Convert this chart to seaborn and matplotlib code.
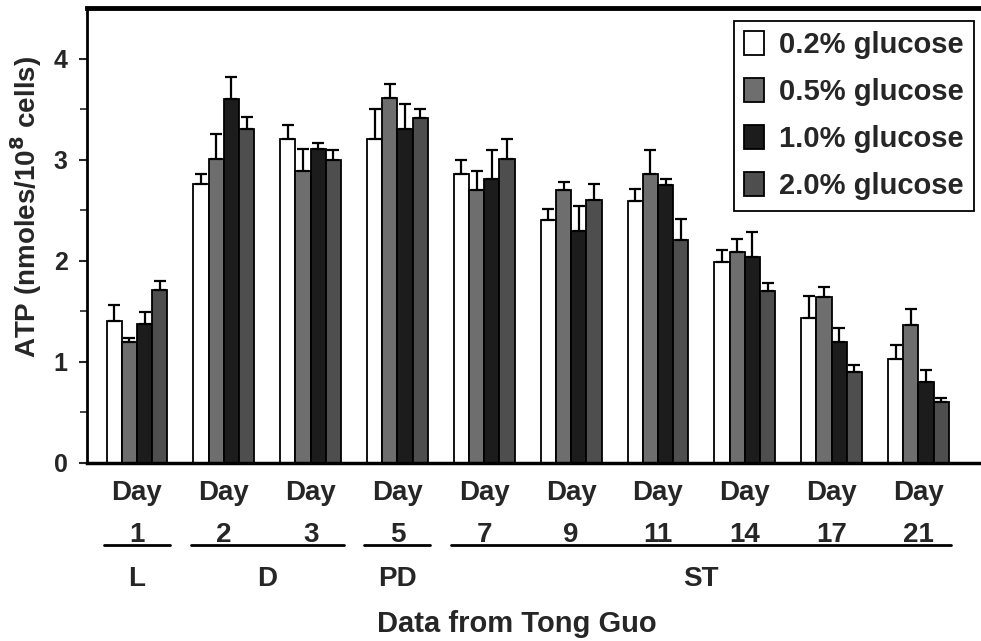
import numpy as np
import pandas as pd
import matplotlib
matplotlib.use('Agg')
import matplotlib.pyplot as plt
import matplotlib.transforms as mtransforms
import seaborn as sns

# data
days = ['1', '2', '3', '5', '7', '9', '11', '14', '17', '21']
glucose = ['0.2% glucose', '0.5% glucose', '1.0% glucose', '2.0% glucose']

atp_02 = [1.40, 2.76, 3.20, 3.20, 2.86, 2.40, 2.59, 1.99, 1.43, 1.03]
atp_05 = [1.20, 3.01, 2.89, 3.61, 2.70, 2.70, 2.86, 2.09, 1.64, 1.36]
atp_10 = [1.37, 3.60, 3.11, 3.30, 2.81, 2.29, 2.75, 2.04, 1.20, 0.80]
atp_20 = [1.71, 3.30, 3.00, 3.41, 3.01, 2.60, 2.21, 1.70, 0.90, 0.60]

err_02 = [0.16, 0.10, 0.14, 0.30, 0.14, 0.11, 0.12, 0.12, 0.22, 0.14]
err_05 = [0.04, 0.24, 0.22, 0.14, 0.19, 0.08, 0.24, 0.13, 0.10, 0.16]
err_10 = [0.12, 0.22, 0.05, 0.25, 0.29, 0.25, 0.06, 0.24, 0.14, 0.12]
err_20 = [0.09, 0.12, 0.10, 0.09, 0.19, 0.16, 0.20, 0.08, 0.07, 0.04]

phases = ['L', 'D', 'PD', 'ST']
phase_first = [0, 1, 3, 4]
phase_last = [0, 2, 3, 9]

means = [atp_02, atp_05, atp_10, atp_20]
errs = [err_02, err_05, err_10, err_20]

df = pd.DataFrame({
    'day': np.tile(days, len(glucose)),
    'glucose': np.repeat(glucose, len(days)),
    'atp': np.concatenate(means),
})

sns.set_style('white')
plt.rcParams['font.family'] = ['Liberation Sans Narrow', 'Liberation Sans', 'DejaVu Sans']
plt.rcParams['font.weight'] = 'bold'
plt.rcParams['axes.labelweight'] = 'bold'

colors = ['#ffffff', '#6e6e6e', '#1c1c1c', '#4e4e4e']

fig = plt.figure(figsize=(9.81, 6.41), dpi=100)
ax = fig.add_axes([0.0887, 0.2777, 0.9113, 0.7098])

sns.barplot(data=df, x='day', y='atp', hue='glucose', order=days, hue_order=glucose,
            palette=colors, width=0.7, edgecolor='black', linewidth=1.3,
            errorbar=None, saturation=1, ax=ax)

# one-sided (upward) error bars at the bar centres
for cont, e in zip(ax.containers, errs):
    xs = [p.get_x() + p.get_width() / 2 for p in cont.patches]
    ys = [p.get_height() for p in cont.patches]
    ax.errorbar(xs, ys, yerr=[np.zeros(len(e)), e], fmt='none', ecolor='black',
                elinewidth=1.6, capsize=4, capthick=1.6)

ax.set_ylim(0, 4.5)
ax.set_xlim(-0.575, 9.72)
ax.set_yticks([0, 1, 2, 3, 4])
ax.set_yticks(np.arange(0.5, 4.5, 1.0), minor=True)
ax.tick_params(axis='y', which='major', direction='out', length=6, width=1.5,
               labelsize=18, left=True, pad=8)
ax.tick_params(axis='y', which='minor', direction='out', length=5, width=1.2, left=True)
ax.tick_params(axis='x', length=0, pad=12)
ax.set_xticks(range(len(days)))
ax.set_xticklabels([f'Day\n{d}' for d in days], fontsize=20, linespacing=1.8)

for s in ['left', 'bottom', 'top']:
    ax.spines[s].set_visible(True)
    ax.spines[s].set_color('black')
ax.spines['left'].set_linewidth(2)
ax.spines['bottom'].set_linewidth(2.5)
ax.spines['top'].set_linewidth(3.5)
ax.spines['right'].set_visible(False)

ax.set_xlabel('')
ax.set_ylabel('ATP (nmoles/10$^\\mathbf{8}$ cells)', fontsize=20)
ax.yaxis.set_label_coords(-0.048, 0.563)

# growth phase brackets under the day labels
trans = mtransforms.blended_transform_factory(ax.transData, ax.transAxes)
for name, a, b in zip(phases, phase_first, phase_last):
    ax.plot([a - 0.38, b + 0.38], [-0.18, -0.18], color='black', lw=2,
            transform=trans, clip_on=False)
    ax.text((a + b) / 2, -0.255, name, transform=trans, ha='center', va='center',
            fontsize=20, fontweight='bold')

fig.text(0.527, 0.026, 'Data from Tong Guo', ha='center', va='center',
         fontsize=21, fontweight='bold')

leg = ax.legend(loc='upper right', bbox_to_anchor=(0.9985, 0.985), fontsize=21,
                frameon=True, fancybox=False, edgecolor='black', framealpha=1,
                handlelength=0.7, handleheight=0.9, handletextpad=0.5,
                labelspacing=0.65, borderpad=0.35, borderaxespad=0.2, title=None)
leg.get_frame().set_linewidth(1.3)

fig.savefig('out.png', dpi=100)
